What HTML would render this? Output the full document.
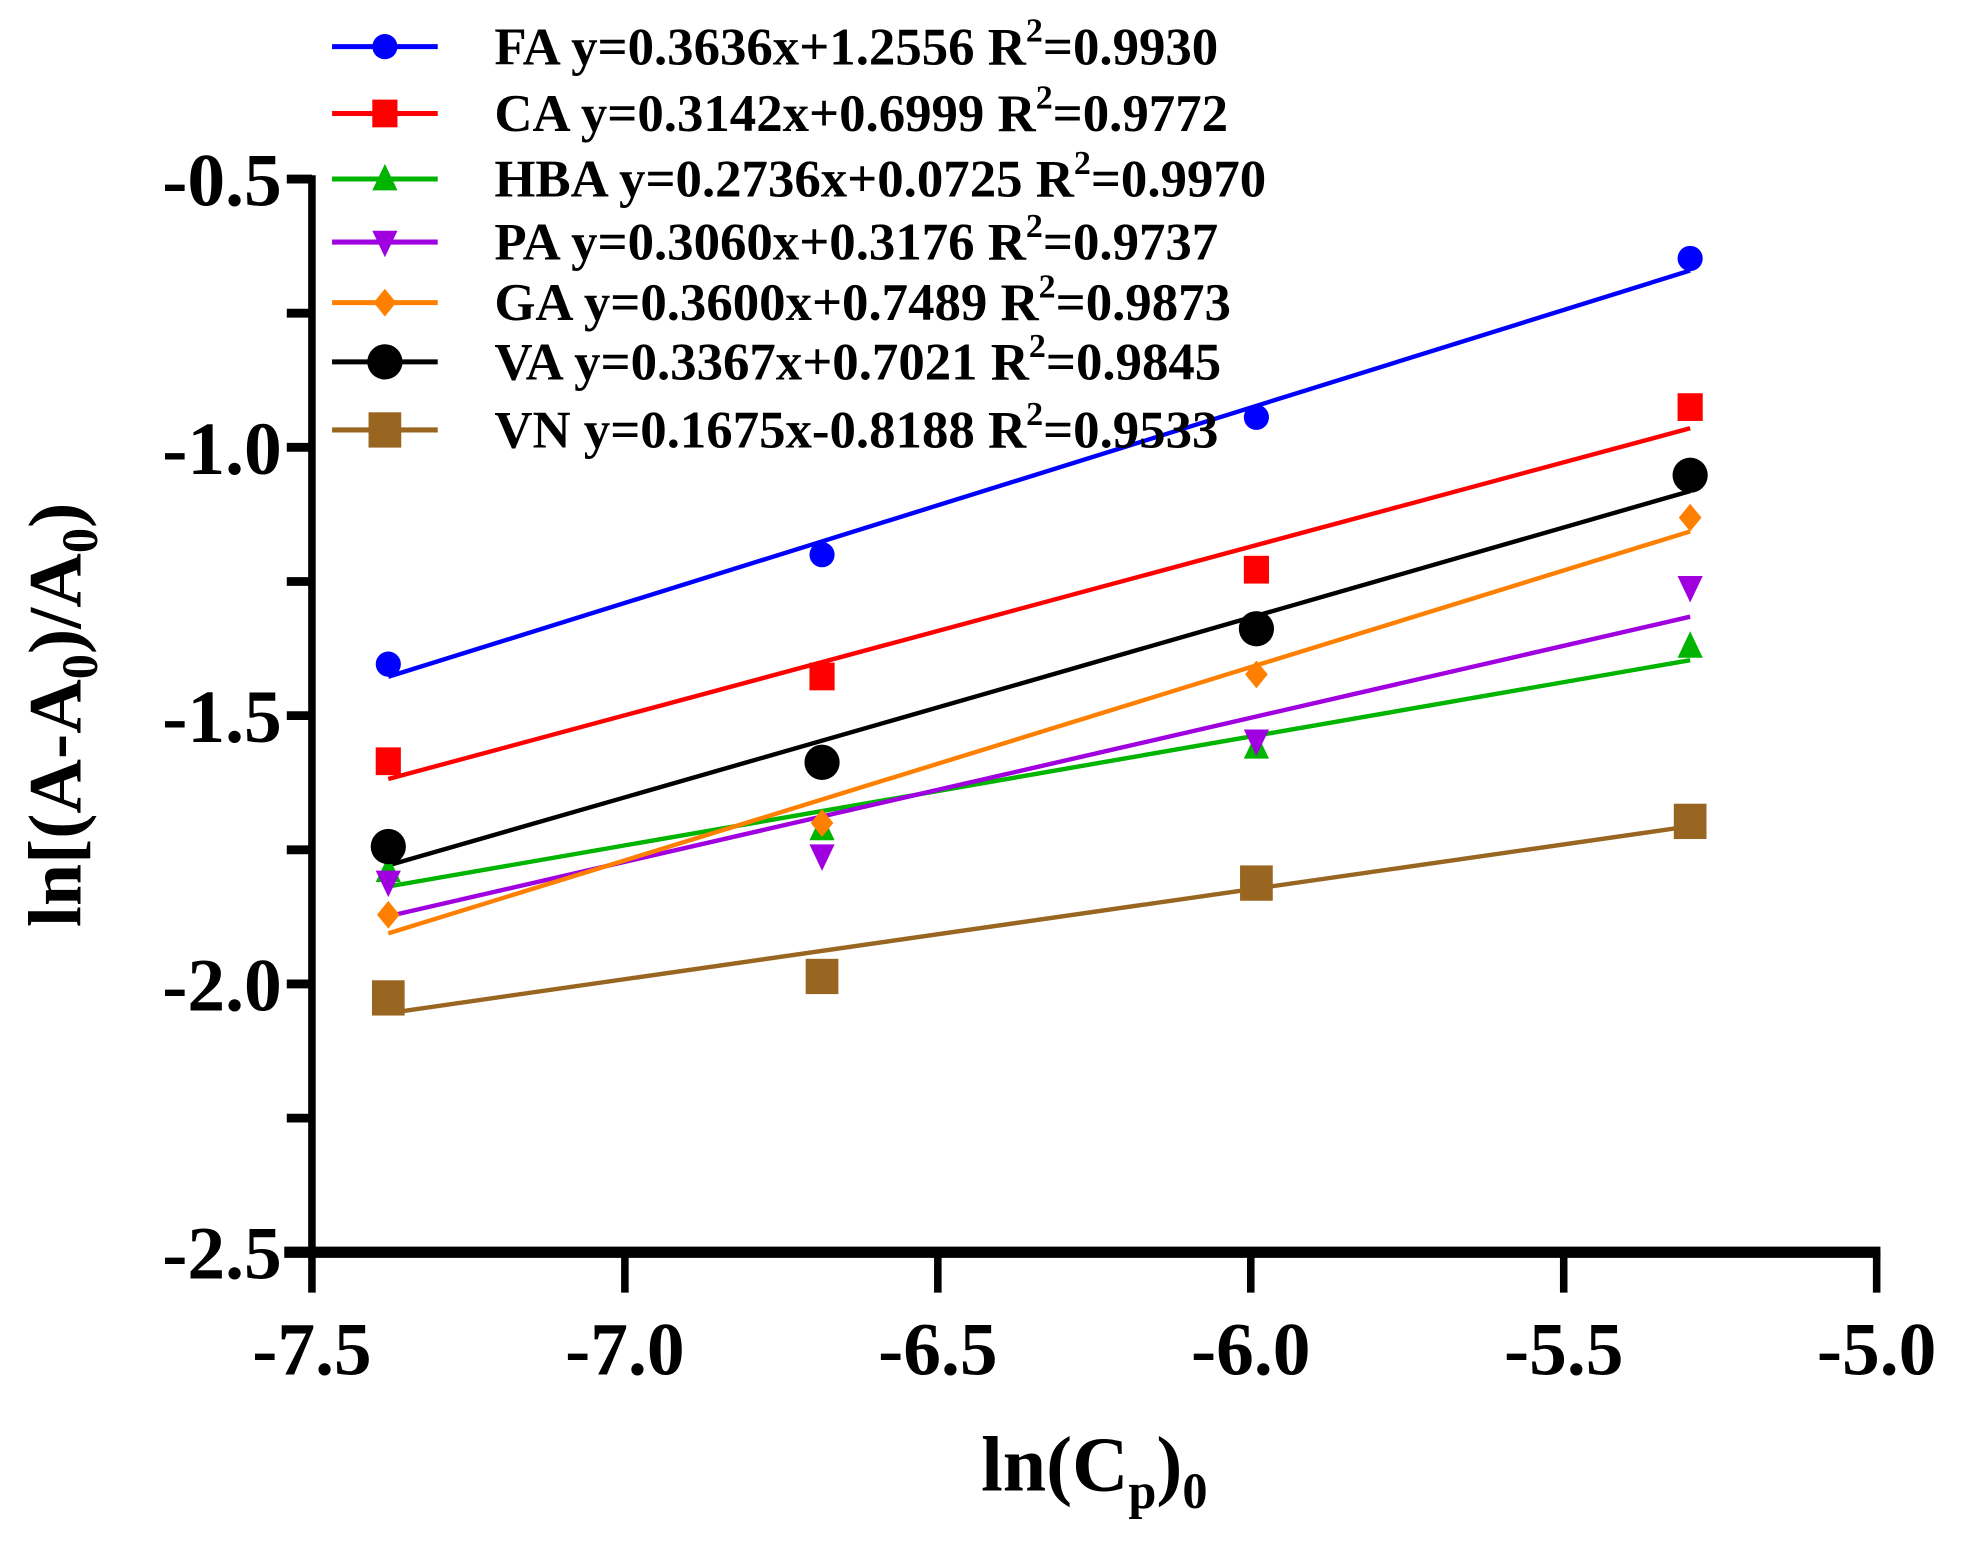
<!DOCTYPE html>
<html><head><meta charset="utf-8"><style>
html,body{margin:0;padding:0;background:#fff;}
svg{display:block;}
text{font-family:"Liberation Serif",serif;font-weight:bold;fill:#000;}
</style></head><body>
<svg id="chart" width="1971" height="1542" viewBox="0 0 1567 1223" preserveAspectRatio="none" xmlns="http://www.w3.org/2000/svg">
<g id="axes"></g>
<g id="fits"></g>
<g id="marks"></g>
<g id="legend"></g>
<text x="870" y="1182" font-size="62" text-anchor="middle">ln(C<tspan font-size="40" dy="14">p</tspan><tspan dy="-14">)</tspan><tspan font-size="40" dy="14">0</tspan></text>
<text transform="translate(64,567) rotate(-90)" font-size="60" text-anchor="middle">ln[(A-A<tspan font-size="40" dy="13">0</tspan><tspan dy="-13">)/A</tspan><tspan font-size="40" dy="13">0</tspan><tspan dy="-13">)</tspan></text>
</svg>
<script>
const xValues = [-7.378, -6.685, -5.991, -5.298];
const seriesNames = ["FA","CA","HBA","PA","GA","VA","VN"];
const seriesColors = ["#0000ff","#ff0000","#00b400","#a000e0","#ff8000","#000000","#996622"];
const seriesShapes = ["circle","square","triangle","tridown","diamond","bigcircle","bigsquare"];
const FA = [-1.404, -1.200, -0.944, -0.648];
const CA = [-1.585, -1.427, -1.228, -0.925];
const HBA = [-1.789, -1.711, -1.559, -1.371];
const PA = [-1.810, -1.761, -1.547, -1.261];
const GA = [-1.871, -1.700, -1.423, -1.131];
const VA = [-1.744, -1.587, -1.338, -1.052];
const VN = [-2.026, -1.986, -1.812, -1.697];
const legendLabels = ["FA y=0.3636x+1.2556 R","CA y=0.3142x+0.6999 R","HBA y=0.2736x+0.0725 R","PA y=0.3060x+0.3176 R","GA  y=0.3600x+0.7489 R","VA y=0.3367x+0.7021 R","VN y=0.1675x-0.8188 R"];
const legendR2 = ["=0.9930","=0.9772","=0.9970","=0.9737","=0.9873","=0.9845","=0.9533"];
const xTicks = [-7.5,-7.0,-6.5,-6.0,-5.5,-5.0];
const xTickLabels = ["-7.5","-7.0","-6.5","-6.0","-5.5","-5.0"];
const yTicks = [-0.5,-0.75,-1.0,-1.25,-1.5,-1.75,-2.0,-2.25,-2.5];
const yTickLabels = ["-0.5","","-1.0","","-1.5","","-2.0","","-2.5"];
const allSeries = [FA,CA,HBA,PA,GA,VA,VN];

const NS="http://www.w3.org/2000/svg";
function sx(v){return 248+(v+7.5)*497.6;}
function sy(v){return 142+(-0.5-v)*425.6;}
function mk(tag,attrs,parent){const e=document.createElementNS(NS,tag);for(const k in attrs)e.setAttribute(k,attrs[k]);parent.appendChild(e);return e;}
function fit(xs,ys){const n=xs.length;let mx=0,my=0;for(let i=0;i<n;i++){mx+=xs[i];my+=ys[i];}mx/=n;my/=n;let a=0,b=0;for(let i=0;i<n;i++){a+=(xs[i]-mx)*(ys[i]-my);b+=(xs[i]-mx)**2;}const m=a/b;return [m,my-m*mx];}

const axes=document.getElementById('axes');
let l=mk('line',{x1:sx(-7.5),y1:sy(-0.5)-3,x2:sx(-7.5),y2:sy(-2.5)+4,stroke:'#000','stroke-width':6},axes);


l=mk('line',{x1:226,y1:sy(-2.5),x2:sx(-5.0)+3,y2:sy(-2.5),stroke:'#000','stroke-width':9},axes);


yTicks.forEach((t,i)=>{
  const tk=mk('line',{x1:228,y1:sy(t),x2:sx(-7.5),y2:sy(t),stroke:'#000','stroke-width':7},axes);
  
  
  if(yTickLabels[i]){
    const tx=mk('text',{x:224,y:sy(t)+21,'font-size':60,'text-anchor':'end'},axes);
    tx.textContent=yTickLabels[i];
    
    
  }
});
xTicks.forEach((t,i)=>{
  const tk=mk('line',{x1:sx(t),y1:sy(-2.5),x2:sx(t),y2:sy(-2.5)+32,stroke:'#000','stroke-width':6},axes);
  
  
  const tx=mk('text',{x:sx(t),y:1090,'font-size':60,'text-anchor':'middle'},axes);
  tx.textContent=xTickLabels[i];
  
  
});

function marker(shape,cx,cy,color,parent){
  let e;
  if(shape==='circle') e=mk('circle',{cx:cx,cy:cy,r:10,fill:color},parent);
  else if(shape==='bigcircle') e=mk('circle',{cx:cx,cy:cy,r:14,fill:color},parent);
  else if(shape==='square') e=mk('rect',{x:cx-10,y:cy-11,width:20,height:22,fill:color},parent);
  else if(shape==='bigsquare') e=mk('rect',{x:cx-13,y:cy-14,width:26,height:28,fill:color},parent);
  else if(shape==='triangle') e=mk('polygon',{points:`${cx},${cy-12} ${cx-10},${cy+9} ${cx+10},${cy+9}`,fill:color},parent);
  else if(shape==='tridown') e=mk('polygon',{points:`${cx-10},${cy-9} ${cx+10},${cy-9} ${cx},${cy+12}`,fill:color},parent);
  else e=mk('polygon',{points:`${cx},${cy-11} ${cx+9},${cy} ${cx},${cy+11} ${cx-9},${cy}`,fill:color},parent);
  return e;
}

const fits=document.getElementById('fits'), marks=document.getElementById('marks'), legend=document.getElementById('legend');
const legendY=[37,90,142,192,240,287,341];
allSeries.forEach((vals,s)=>{
  const [m,b]=fit(xValues,vals);
  const x0=xValues[0], x1=xValues[xValues.length-1];
  const fl=mk('line',{x1:sx(x0),y1:sy(m*x0+b),x2:sx(x1),y2:sy(m*x1+b),stroke:seriesColors[s],'stroke-width':3.5},fits);
  
  
  vals.forEach((v,i)=>{
    const mm=marker(seriesShapes[s],sx(xValues[i]),sy(v),seriesColors[s],marks);
    
    
  });
  const ly=legendY[s];
  const ll=mk('line',{x1:264,y1:ly,x2:348,y2:ly,stroke:seriesColors[s],'stroke-width':4},legend);
  
  
  const lm=marker(seriesShapes[s],306,ly,seriesColors[s],legend);
  
  
  const t=mk('text',{x:393,y:ly+14,'font-size':42},legend);
  
  
  t.appendChild(document.createTextNode(legendLabels[s]));
  const sup=mk('tspan',{'font-size':27,dy:-18},t); sup.textContent='2';
  const rest=mk('tspan',{dy:18},t); rest.textContent=legendR2[s];
});
</script>
</body></html>
